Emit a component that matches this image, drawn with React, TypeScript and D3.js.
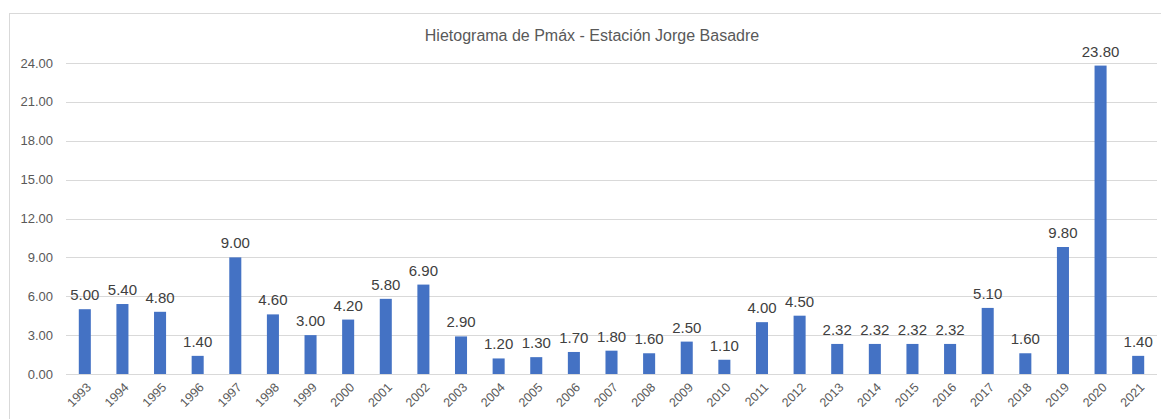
import { useEffect, useRef } from "react";
import * as d3 from "d3";

const width = 1161;
const height = 419;
const margin = { top: 63, right: 4, bottom: 45, left: 66 };

const years = [
  "1993", "1994", "1995", "1996", "1997", "1998", "1999", "2000", "2001", "2002",
  "2003", "2004", "2005", "2006", "2007", "2008", "2009", "2010", "2011", "2012",
  "2013", "2014", "2015", "2016", "2017", "2018", "2019", "2020", "2021",
];
const pmax = [
  5.0, 5.4, 4.8, 1.4, 9.0, 4.6, 3.0, 4.2, 5.8, 6.9,
  2.9, 1.2, 1.3, 1.7, 1.8, 1.6, 2.5, 1.1, 4.0, 4.5,
  2.32, 2.32, 2.32, 2.32, 5.1, 1.6, 9.8, 23.8, 1.4,
];
const yTicks = [0, 3, 6, 9, 12, 15, 18, 21, 24];
const title = "Hietograma de Pmáx - Estación Jorge Basadre";

const font = "'Liberation Sans', Arial, sans-serif";

function App() {
  const node = useRef<HTMLDivElement>(null);

  useEffect(() => {
    const root = d3.select(node.current);
    root.selectAll("svg").remove();

    const svg = root
      .append("svg")
      .attr("width", width)
      .attr("height", height)
      .style("position", "absolute")
      .style("left", 0)
      .style("top", 0)
      .style("font-family", font);

    svg.append("rect").attr("width", width).attr("height", height).attr("fill", "#fff");

    // chart border
    svg
      .append("rect")
      .attr("x", 9.5)
      .attr("y", 13.5)
      .attr("width", width)
      .attr("height", height)
      .attr("fill", "none")
      .attr("stroke", "#d9d9d9");

    svg
      .append("text")
      .attr("x", 592)
      .attr("y", 41)
      .attr("text-anchor", "middle")
      .attr("font-size", 16)
      .attr("fill", "#595959")
      .text(title);

    const x = d3
      .scaleBand()
      .domain(years)
      .range([margin.left, width - margin.right])
      .paddingInner(0.68)
      .paddingOuter(0.34);
    const y = d3
      .scaleLinear()
      .domain([0, 24])
      .range([height - margin.bottom, margin.top]);

    // gridlines
    svg
      .append("g")
      .selectAll("line")
      .data(yTicks)
      .join("line")
      .attr("x1", margin.left)
      .attr("x2", width - margin.right)
      .attr("y1", (d) => Math.round(y(d)) + 0.5)
      .attr("y2", (d) => Math.round(y(d)) + 0.5)
      .attr("stroke", "#d9d9d9")
      .attr("stroke-width", 1);

    // y labels
    svg
      .append("g")
      .selectAll("text")
      .data(yTicks)
      .join("text")
      .attr("x", 53)
      .attr("y", (d) => y(d))
      .attr("dy", "0.35em")
      .attr("text-anchor", "end")
      .attr("font-size", 13)
      .attr("fill", "#595959")
      .text((d) => d.toFixed(2));

    // bars
    svg
      .append("g")
      .selectAll("rect")
      .data(pmax)
      .join("rect")
      .attr("x", (d, i) => x(years[i])!)
      .attr("y", (d) => y(d))
      .attr("width", x.bandwidth())
      .attr("height", (d) => y(0) - y(d))
      .attr("fill", "#4472c4");

    // data labels
    svg
      .append("g")
      .selectAll("text")
      .data(pmax)
      .join("text")
      .attr("x", (d, i) => x(years[i])! + x.bandwidth() / 2)
      .attr("y", (d) => y(d) - 9)
      .attr("text-anchor", "middle")
      .attr("font-size", 15)
      .attr("fill", "#404040")
      .text((d) => d.toFixed(2));

    // x labels
    svg
      .append("g")
      .selectAll("text")
      .data(years)
      .join("text")
      .attr("transform", (d) => {
        const cx = x(d)! + x.bandwidth() / 2 + 4;
        return "translate(" + cx + "," + (y(0) + 11) + ") rotate(-45)";
      })
      .attr("text-anchor", "end")
      .attr("dy", "0.35em")
      .attr("font-size", 12.5)
      .attr("fill", "#595959")
      .text((d) => d);
  }, []);

  return <div ref={node} />;
}

export default App;
